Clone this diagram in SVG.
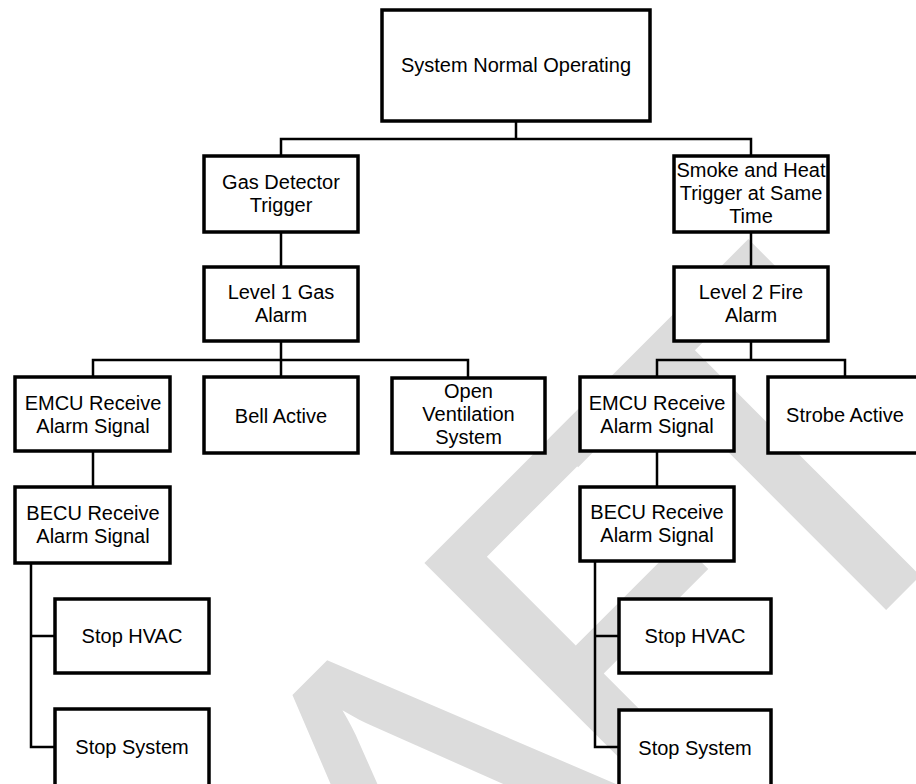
<svg xmlns="http://www.w3.org/2000/svg" width="916" height="784" viewBox="0 0 916 784">
  <style>
    .box { fill: #ffffff; stroke: #000000; stroke-width: 3.5; }
    .lbl { font-family: "Liberation Sans", Arial, sans-serif; font-size: 20px; fill: #000000; text-anchor: middle; }
    .wire { fill: none; stroke: #000000; stroke-width: 2.5; stroke-linecap: square; }
    .mark { font-family: Lato, "Open Sans", sans-serif; font-size: 502px; fill: #dcdcdc; }
  </style>
  <rect width="916" height="784" fill="#ffffff"/>

  <!-- diagonal watermark, sits behind everything -->
  <g id="watermark" transform="translate(493.5 493.5) rotate(-45)">
    <text class="mark" x="-1100 -780 -430 -144 71" y="360">DRAFT</text>
  </g>

  <!-- connectors -->
  <g id="connectors">
    <path class="wire" d="M516 123V139M281 139H751M281 139V154M751 139V154"/>
    <path class="wire" d="M281 234V265M751 234V265"/>
    <path class="wire" d="M281 343V360M93 360H468M93 360V375M281 360V375M468 360V376"/>
    <path class="wire" d="M751 343V360M657 360H845M657 360V375M845 360V375"/>
    <path class="wire" d="M93 453V485M657 453V485"/>
    <path class="wire" d="M31 565V747M31 636H53M31 747H53"/>
    <path class="wire" d="M595 563V747M595 636H617M595 747H617"/>
  </g>

  <g id="system-normal">
    <rect class="box" x="382" y="10" width="268" height="111"/>
    <text class="lbl" x="516" y="72">System Normal Operating</text>
  </g>

  <g id="gas-detector">
    <rect class="box" x="204" y="156" width="154" height="76"/>
    <text class="lbl" x="281" y="189">Gas Detector</text>
    <text class="lbl" x="281" y="212">Trigger</text>
  </g>

  <g id="smoke-heat">
    <rect class="box" x="674" y="156" width="154" height="76"/>
    <text class="lbl" x="751" y="177">Smoke and Heat</text>
    <text class="lbl" x="751" y="200">Trigger at Same</text>
    <text class="lbl" x="751" y="223">Time</text>
  </g>

  <g id="level1-gas">
    <rect class="box" x="204" y="267" width="154" height="74"/>
    <text class="lbl" x="281" y="299">Level 1 Gas</text>
    <text class="lbl" x="281" y="322">Alarm</text>
  </g>

  <g id="level2-fire">
    <rect class="box" x="674" y="267" width="154" height="74"/>
    <text class="lbl" x="751" y="299">Level 2 Fire</text>
    <text class="lbl" x="751" y="322">Alarm</text>
  </g>

  <g id="emcu-gas">
    <rect class="box" x="15" y="377" width="155" height="74"/>
    <text class="lbl" x="93" y="410">EMCU Receive</text>
    <text class="lbl" x="93" y="433">Alarm Signal</text>
  </g>

  <g id="bell-active">
    <rect class="box" x="204" y="377" width="154" height="76"/>
    <text class="lbl" x="281" y="423">Bell Active</text>
  </g>

  <g id="open-ventilation">
    <rect class="box" x="392" y="378" width="153" height="75"/>
    <text class="lbl" x="468.5" y="398">Open</text>
    <text class="lbl" x="468.5" y="421">Ventilation</text>
    <text class="lbl" x="468.5" y="444">System</text>
  </g>

  <g id="emcu-fire">
    <rect class="box" x="580" y="377" width="154" height="74"/>
    <text class="lbl" x="657" y="410">EMCU Receive</text>
    <text class="lbl" x="657" y="433">Alarm Signal</text>
  </g>

  <g id="strobe-active">
    <rect class="box" x="768" y="377" width="156" height="76"/>
    <text class="lbl" x="845" y="422">Strobe Active</text>
  </g>

  <g id="becu-gas">
    <rect class="box" x="15" y="487" width="155" height="76"/>
    <text class="lbl" x="93" y="520">BECU Receive</text>
    <text class="lbl" x="93" y="543">Alarm Signal</text>
  </g>

  <g id="becu-fire">
    <rect class="box" x="580" y="487" width="154" height="74"/>
    <text class="lbl" x="657" y="519">BECU Receive</text>
    <text class="lbl" x="657" y="542">Alarm Signal</text>
  </g>

  <g id="stop-hvac-gas">
    <rect class="box" x="55" y="599" width="154" height="74"/>
    <text class="lbl" x="132" y="643">Stop HVAC</text>
  </g>

  <g id="stop-system-gas">
    <rect class="box" x="55" y="709" width="154" height="77"/>
    <text class="lbl" x="132" y="754">Stop System</text>
  </g>

  <g id="stop-hvac-fire">
    <rect class="box" x="619" y="599" width="152" height="74"/>
    <text class="lbl" x="695" y="643">Stop HVAC</text>
  </g>

  <g id="stop-system-fire">
    <rect class="box" x="619" y="710" width="152" height="77"/>
    <text class="lbl" x="695" y="755">Stop System</text>
  </g>
</svg>
